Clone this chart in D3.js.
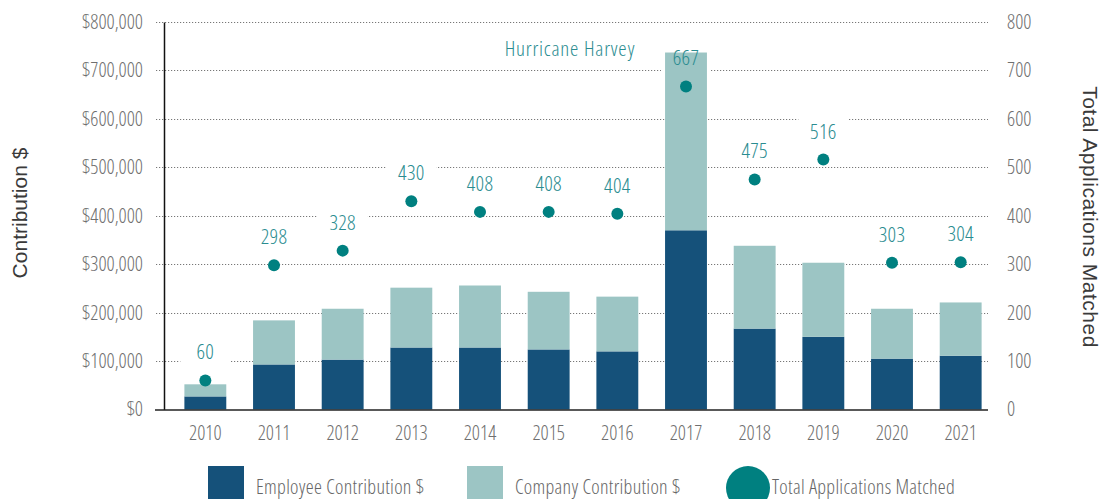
<!DOCTYPE html>
<html lang="en">
  <head>
    <meta charset="UTF-8" />
    <title>Matching Gifts</title>
    <script src="https://d3js.org/d3.v7.min.js"></script>
    <style>
      body {
        margin: 0;
        background: #fff;
      }
      svg {
        display: block;
      }
      .cond {
        font-family: "Open Sans", "Roboto", sans-serif;
        font-stretch: condensed;
      }
      .light {
        font-weight: 300;
      }
    </style>
  </head>
  <body>
    <script>
      // data
      const years = ["2010", "2011", "2012", "2013", "2014", "2015", "2016", "2017", "2018", "2019", "2020", "2021"];
      const employee = [27000, 93000, 103000, 128000, 128000, 124000, 120000, 370000, 167000, 150000, 105000, 111000];
      const company = [25000, 91000, 105000, 123500, 128000, 119000, 113000, 367000, 171000, 153000, 103000, 110000];
      const applications = [60, 298, 328, 430, 408, 408, 404, 667, 475, 516, 303, 304];
      const dollarTicks = [0, 100000, 200000, 300000, 400000, 500000, 600000, 700000, 800000];
      const countTicks = [0, 100, 200, 300, 400, 500, 600, 700, 800];
      const legendLabels = ["Employee Contribution $", "Company Contribution $", "Total Applications Matched"];

      const colors = { employee: "#15517a", company: "#9cc5c4", dot: "#008080", label: "#2a8c90", tick: "#6f6f6f" };

      const width = 1103,
        height = 499;
      const plotLeft = 164,
        plotRight = 988,
        plotTop = 22,
        plotBottom = 409.5;

      const svg = d3.select("body").append("svg").attr("width", width).attr("height", height);

      const x = d3.scaleBand().domain(years).range([171, 995]).paddingInner(0.39).paddingOuter(0.195);
      const yL = d3.scaleLinear().domain([0, 800000]).range([plotBottom, plotTop]);
      const yR = d3.scaleLinear().domain([0, 800]).range([plotBottom, plotTop]);

      const rows = years.map((y, i) => ({ year: y, employee: employee[i], company: company[i], apps: applications[i] }));

      // gridlines (dotted), starting a bit left of the axis like little ticks
      svg
        .append("g")
        .selectAll("line")
        .data(dollarTicks.slice(1))
        .join("line")
        .attr("x1", 156)
        .attr("x2", plotRight)
        .attr("y1", (d) => Math.round(yL(d)) + 0.5)
        .attr("y2", (d) => Math.round(yL(d)) + 0.5)
        .attr("stroke", "#777")
        .attr("stroke-width", 1)
        .attr("stroke-dasharray", "1.2,1.8");

      const labelY = (d) => yR(d.apps) - 21;

      // white boxes behind value labels (they cut the gridlines)
      svg
        .append("g")
        .selectAll("rect")
        .data(rows)
        .join("rect")
        .attr("x", (d) => x(d.year) + x.bandwidth() / 2 - 25)
        .attr("y", (d) => labelY(d) - 23)
        .attr("width", 50)
        .attr("height", 30)
        .attr("fill", "#fff");

      // stacked bars
      const stack = d3.stack().keys(["employee", "company"]);
      const series = stack(rows);
      svg
        .append("g")
        .selectAll("g")
        .data(series)
        .join("g")
        .attr("fill", (s) => colors[s.key])
        .selectAll("rect")
        .data((s) => s)
        .join("rect")
        .attr("x", (d) => x(d.data.year))
        .attr("width", x.bandwidth())
        .attr("y", (d) => yL(d[1]))
        .attr("height", (d) => yL(d[0]) - yL(d[1]));

      // dots for applications
      svg
        .append("g")
        .selectAll("circle")
        .data(rows)
        .join("circle")
        .attr("cx", (d) => x(d.year) + x.bandwidth() / 2)
        .attr("cy", (d) => yR(d.apps))
        .attr("r", 6)
        .attr("fill", colors.dot);

      svg
        .append("g")
        .attr("class", "cond")
        .style("font-weight", 340)
        .selectAll("text")
        .data(rows)
        .join("text")
        .attr("x", (d) => x(d.year) + x.bandwidth() / 2)
        .attr("y", labelY)
        .attr("text-anchor", "middle")
        .attr("font-size", 21)
        .attr("letter-spacing", 0.3)
        .attr("fill", colors.label)
        .text((d) => d.apps);

      svg
        .append("text")
        .attr("class", "cond light")
        .attr("x", 570)
        .attr("y", 56)
        .attr("text-anchor", "middle")
        .attr("font-size", 21)
        .attr("letter-spacing", 0.8)
        .attr("fill", colors.label)
        .text("Hurricane Harvey");

      // axes
      const leftAxis = svg
        .append("g")
        .attr("class", "cond light")
        .attr("transform", `translate(${plotLeft},0)`)
        .call(
          d3
            .axisLeft(yL)
            .tickValues(dollarTicks)
            .tickFormat((d) => "$" + d3.format(",")(d))
            .tickSize(0)
            .tickPadding(21)
        );
      leftAxis.select(".domain").attr("stroke", "#111").attr("stroke-width", 1.5);
      leftAxis.selectAll("text").attr("font-size", 20).attr("fill", colors.tick).attr("font-family", null);

      const rightAxis = svg
        .append("g")
        .attr("class", "cond light")
        .attr("transform", `translate(${plotRight},0)`)
        .call(d3.axisRight(yR).tickValues(countTicks).tickSize(0).tickPadding(19));
      rightAxis.select(".domain").remove();
      rightAxis.selectAll("text").attr("font-size", 20).attr("fill", colors.tick).attr("font-family", null);

      const bottomAxis = svg
        .append("g")
        .attr("class", "cond light")
        .attr("transform", `translate(0,${plotBottom})`)
        .call(d3.axisBottom(x).tickSize(0).tickPadding(16));
      bottomAxis.select(".domain").remove();
      bottomAxis.selectAll("text").attr("font-size", 20).attr("fill", colors.tick).attr("font-family", null);
      svg
        .append("line")
        .attr("x1", 155)
        .attr("x2", plotRight)
        .attr("y1", plotBottom + 0.5)
        .attr("y2", plotBottom + 0.5)
        .attr("stroke", "#222")
        .attr("stroke-width", 1.5);

      // axis titles
      svg
        .append("text")
        .attr("transform", "translate(27,213) rotate(-90)")
        .attr("text-anchor", "middle")
        .attr("font-family", "Liberation Sans, Arial, sans-serif")
        .attr("font-size", 21)
        .attr("fill", "#3a3a3a")
        .text("Contribution $");
      svg
        .append("text")
        .attr("transform", "translate(1083,217) rotate(90)")
        .attr("text-anchor", "middle")
        .attr("font-family", "Liberation Sans, Arial, sans-serif")
        .attr("font-size", 21)
        .attr("letter-spacing", 0.5)
        .attr("fill", "#3a3a3a")
        .text("Total Applications Matched");

      // legend
      const legend = svg.append("g").attr("class", "cond light");
      const legendX = [208, 467, 726];
      legend.append("rect").attr("x", legendX[0]).attr("y", 466).attr("width", 36).attr("height", 36).attr("fill", colors.employee);
      legend.append("rect").attr("x", legendX[1]).attr("y", 466).attr("width", 36).attr("height", 36).attr("fill", colors.company);
      legend.append("circle").attr("cx", legendX[2] + 22).attr("cy", 488).attr("r", 22).attr("fill", colors.dot);
      legend
        .selectAll("text")
        .data(legendLabels)
        .join("text")
        .attr("x", (d, i) => legendX[i] + (i === 2 ? 46 : 48))
        .attr("y", 494)
        .attr("font-size", 20)
        .attr("letter-spacing", 0.3)
        .attr("fill", "#666")
        .text((d) => d);
    </script>
  </body>
</html>
